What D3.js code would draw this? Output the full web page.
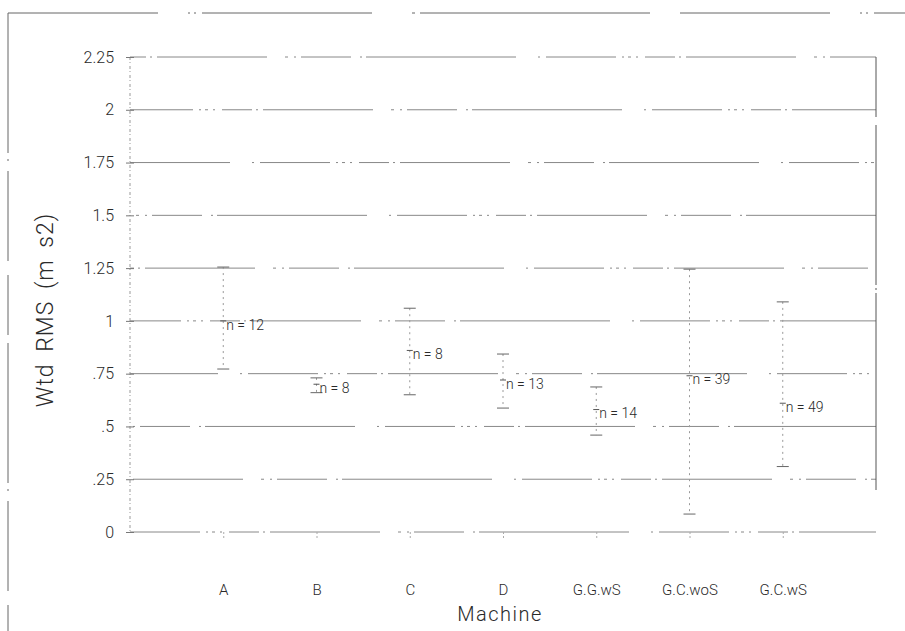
<!DOCTYPE html>
<html>
<head>
<meta charset="utf-8">
<script src="https://cdn.jsdelivr.net/npm/d3@7"></script>
<style>
  html, body { margin: 0; padding: 0; background: #fff; }
  svg { display: block; }
  text { font-family: Roboto, "Noto Sans", sans-serif; font-weight: 300; fill: #2a2a2a; }
</style>
</head>
<body>
<svg id="chart" width="905" height="631"></svg>
<script>
// Machines on the x axis
const machines = ["A", "B", "C", "D", "G.G.wS", "G.C.woS", "G.C.wS"];
// Mean weighted RMS acceleration per machine
const means = [1.0, 0.70, 0.86, 0.72, 0.58, 0.74, 0.61];
// Error bar limits
const lower = [0.772, 0.66, 0.65, 0.587, 0.459, 0.085, 0.31];
const upper = [1.255, 0.73, 1.06, 0.843, 0.687, 1.245, 1.09];
// Sample sizes
const counts = [12, 8, 8, 13, 14, 39, 49];
// Y axis ticks and their labels
const yTicks = [0, 0.25, 0.5, 0.75, 1, 1.25, 1.5, 1.75, 2, 2.25];
const yTickLabels = ["0", ".25", ".5", ".75", "1", "1.25", "1.5", "1.75", "2", "2.25"];

const svg = d3.select("#chart");
const plotLeft = 130, plotRight = 876, plotTop = 57, plotBottom = 532;

const x = d3.scalePoint().domain(machines).range([plotLeft, plotRight]).padding(1);
const y = d3.scaleLinear().domain([0, 2.25]).range([plotBottom, plotTop]);

// outer frame (left and top edges)
svg.append("line").attr("x1", 8).attr("x2", 8).attr("y1", 13).attr("y2", 631)
  .attr("stroke", "#666").attr("stroke-dasharray", "140,6,2,10,90,14,60,8");
svg.append("line").attr("x1", 8).attr("x2", 905).attr("y1", 13).attr("y2", 13)
  .attr("stroke", "#666").attr("stroke-dasharray", "150,30,2,4,2,6,170,40,3,5,230,30");

// horizontal grid lines: long strokes broken by dotted runs
const gridDash = "70,6,2,4,3,5,2,7,30,4,2,5,110,18,3,6,2,5,50,9,2,4,150,22,2,6";
svg.append("g").selectAll("line").data(yTicks).join("line")
  .attr("x1", plotLeft).attr("x2", plotRight)
  .attr("y1", d => y(d)).attr("y2", d => y(d))
  .attr("stroke", "#888").attr("stroke-width", 1)
  .attr("stroke-dasharray", gridDash)
  .attr("stroke-dashoffset", (d, i) => (i * 137) % 560);

// y axis (left) and right edge
svg.append("line").attr("x1", plotLeft).attr("x2", plotLeft).attr("y1", plotTop).attr("y2", plotBottom)
  .attr("stroke", "#999").attr("stroke-dasharray", "3,2,1,3");
svg.append("line").attr("x1", plotRight).attr("x2", plotRight).attr("y1", plotTop).attr("y2", plotBottom - 42)
  .attr("stroke", "#555").attr("stroke-dasharray", "60,8,160,3,2,3,200");

const yAxis = d3.axisLeft(y).tickValues(yTicks)
  .tickFormat((d, i) => yTickLabels[i]).tickSize(4).tickPadding(12);
const gy = svg.append("g").attr("transform", `translate(${plotLeft},0)`).call(yAxis);
gy.select(".domain").remove();
gy.selectAll(".tick line").attr("stroke", "#777").attr("x2", 4).attr("x1", -4);
gy.selectAll(".tick text").style("font-size", "16px").style("font-family", "Roboto, sans-serif")
  .style("font-weight", 300).attr("fill", "#333");

const xAxis = d3.axisBottom(x).tickSize(7).tickPadding(45);
const gx = svg.append("g").attr("transform", `translate(0,${plotBottom})`).call(xAxis);
gx.select(".domain").remove();
gx.selectAll(".tick line").attr("stroke", "#aaa").attr("stroke-dasharray", "2,2");
gx.selectAll(".tick text").style("font-size", "15px").style("font-family", "Roboto, sans-serif")
  .style("font-weight", 300).attr("fill", "#333");

// axis titles
svg.append("text").attr("x", 500).attr("y", 621).attr("text-anchor", "middle")
  .style("font-size", "20px").style("letter-spacing", "1.5px").text("Machine");
svg.append("text").attr("transform", "translate(53,310) rotate(-90)")
  .attr("text-anchor", "middle")
  .style("font-size", "23px").style("letter-spacing", "1px").style("word-spacing", "5px")
  .text("Wtd RMS (m s2)");

// error bars
const bars = svg.append("g").selectAll("g").data(machines).join("g");
bars.append("line")
  .attr("x1", d => x(d)).attr("x2", d => x(d))
  .attr("y1", (d, i) => y(upper[i])).attr("y2", (d, i) => y(lower[i]))
  .attr("stroke", "#999").attr("stroke-dasharray", "2,4");
bars.append("line")
  .attr("x1", d => x(d) - 6).attr("x2", d => x(d) + 6)
  .attr("y1", (d, i) => y(upper[i])).attr("y2", (d, i) => y(upper[i]))
  .attr("stroke", "#666");
bars.append("line")
  .attr("x1", d => x(d) - 6).attr("x2", d => x(d) + 6)
  .attr("y1", (d, i) => y(lower[i])).attr("y2", (d, i) => y(lower[i]))
  .attr("stroke", "#666");
// mean marker
bars.append("line")
  .attr("x1", d => x(d) - 3).attr("x2", d => x(d) + 3)
  .attr("y1", (d, i) => y(means[i])).attr("y2", (d, i) => y(means[i]))
  .attr("stroke", "#555");
// sample size label at the mean
bars.append("text")
  .attr("x", d => x(d) + 3)
  .attr("y", (d, i) => y(means[i]) + 5)
  .attr("dominant-baseline", "middle")
  .style("font-size", "14px")
  .attr("fill", "#333")
  .text((d, i) => "n = " + counts[i]);
</script>
</body>
</html>
